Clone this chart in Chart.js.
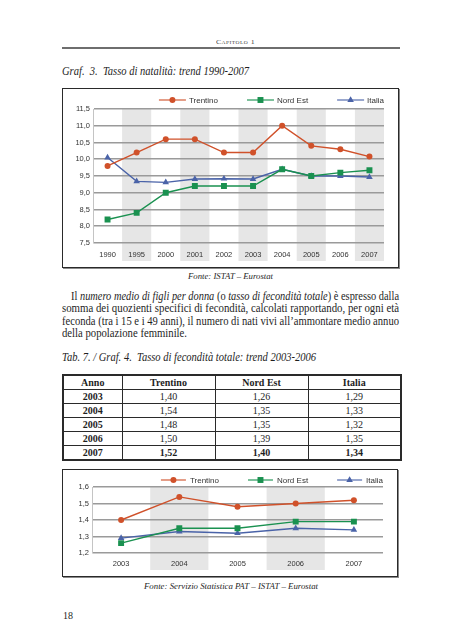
<!DOCTYPE html>
<html>
<head>
<meta charset="utf-8">
<script src="https://cdn.jsdelivr.net/npm/chart.js@4.4.1/dist/chart.umd.min.js"></script>
<style>
  body { margin: 0; width: 453px; height: 640px; background: #fff; position: relative; overflow: hidden; }
  .txt { position: absolute; white-space: nowrap; display: inline-block; color: #1e1e1e;
         font-family: "Liberation Serif", "Times New Roman", serif; transform-origin: 0 0; }
  .it { font-style: italic; }
  .rule { position: absolute; left: 62px; top: 47px; width: 338px; height: 2px; background: #6e6e6e; }
  .box { position: absolute; border: 1px solid #2a2a2a; box-shadow: 1px 1px 0 #8a8a8a; background: #fff; }
  .box canvas { display: block; }
  table { position: absolute; left: 62px; top: 374px; width: 338px; height: 86px; border-collapse: collapse;
          table-layout: fixed; font-family: "Liberation Serif", "Times New Roman", serif; font-size: 10px; color: #1e1e1e; }
  td, th { border: 1px solid #2a2a2a; text-align: center; padding: 0; height: 13px; }
  table { border: 2px solid #2a2a2a; }
  td.b, th { font-weight: bold; }
</style>
</head>
<body>
<div class="rule"></div>
<div class="box" style="left:62px; top:88px; width:335px; height:178px;">
  <canvas id="chart1" width="335" height="178"></canvas>
</div>
<div class="box" style="left:62px; top:469px; width:334px; height:106px;">
  <canvas id="chart2" width="334" height="106"></canvas>
</div>
<script>
// Graf. 3 - tasso di natalità
const years1 = ["1990", "1995", "2000", "2001", "2002", "2003", "2004", "2005", "2006", "2007"];
const trentino1 = [9.8, 10.2, 10.6, 10.6, 10.2, 10.2, 11.0, 10.4, 10.3, 10.08];
const nordEst1 = [8.2, 8.4, 9.0, 9.2, 9.2, 9.2, 9.7, 9.5, 9.6, 9.67];
const italia1 = [10.05, 9.34, 9.31, 9.41, 9.42, 9.41, 9.7, 9.5, 9.5, 9.47];

// Graf. 4 - tasso di fecondità totale
const years2 = ["2003", "2004", "2005", "2006", "2007"];
const trentino2 = [1.40, 1.54, 1.48, 1.50, 1.52];
const nordEst2 = [1.26, 1.35, 1.35, 1.39, 1.39];
const italia2 = [1.29, 1.33, 1.32, 1.35, 1.34];

// Tab. 7
const tableHead = ["Anno", "Trentino", "Nord Est", "Italia"];
const tableYears = ["2003", "2004", "2005", "2006", "2007"];
const tableTrentino = ["1,40", "1,54", "1,48", "1,50", "1,52"];
const tableNordEst = ["1,26", "1,35", "1,35", "1,39", "1,40"];
const tableItalia = ["1,29", "1,33", "1,32", "1,35", "1,34"];

const seriesNames = ["Trentino", "Nord Est", "Italia"];
const seriesColors = ["#d0512a", "#1a9150", "#4a63a8"];
const seriesMarkers = ["circle", "rect", "triangle"];
const seriesRadius = [3, 4.2, 3.8];

const sansFont = '"Liberation Sans", Arial, sans-serif';

function addText(html, opts) {
    const el = document.createElement("div");
    el.className = "txt" + (opts.italic ? " it" : "");
    el.innerHTML = html;
    el.style.fontSize = opts.size + "px";
    el.style.lineHeight = opts.size + "px";
    el.style.top = (opts.cy - opts.size * 0.55) + "px";
    if (opts.color) el.style.color = opts.color;
    if (opts.smallCaps) { el.style.fontVariant = "small-caps"; el.style.letterSpacing = "0.4px"; }
    document.body.appendChild(el);
    const nat = el.getBoundingClientRect().width;
    const w = opts.width || nat;
    if (opts.width) el.style.transform = "scaleX(" + (w / nat) + ")";
    const left = opts.cx !== undefined ? opts.cx - w / 2 : opts.left;
    el.style.left = left + "px";
}

addText("Capitolo 1", { cx: 235.5, cy: 43, size: 7, width: 39, smallCaps: true, color: "#444" });
addText("Graf.&nbsp; 3.&nbsp; Tasso di natalità: trend 1990-2007", { left: 62, cy: 71, size: 13, width: 187, italic: true });
addText("Fonte: ISTAT – Eurostat", { cx: 230.5, cy: 277, size: 9, width: 85, italic: true });

const para = [
    ['Il <i>numero medio di figli per donna</i> (o <i>tasso di fecondità totale</i>) è espresso dalla', 71, 297, 328],
    ["somma dei quozienti specifici di fecondità, calcolati rapportando, per ogni età", 62, 309.3, 337],
    ["feconda (tra i 15 e i 49 anni), il numero di nati vivi all’ammontare medio annuo", 62, 321.5, 337],
    ["della popolazione femminile.", 62, 333.6, 125]
];
para.forEach(p => addText(p[0], { left: p[1], cy: p[2], size: 12.5, width: p[3] }));

addText("Tab. 7. / Graf. 4.&nbsp; Tasso di fecondità totale: trend 2003-2006", { left: 62, cy: 357, size: 13, width: 254, italic: true });
addText("Fonte: Servizio Statistica PAT – ISTAT – Eurostat", { cx: 231, cy: 587, size: 9, width: 174, italic: true });
addText("18", { left: 63, cy: 616, size: 10 });

// table
const table = document.createElement("table");
table.innerHTML =
    '<colgroup><col style="width:59px"><col style="width:93px"><col style="width:93px"><col style="width:93px"></colgroup>' +
    "<tr>" + tableHead.map(h => "<th>" + h + "</th>").join("") + "</tr>" +
    tableYears.map((y, i) => {
        const last = i === tableYears.length - 1 ? ' class="b"' : "";
        return '<tr><td class="b">' + y + "</td><td" + last + ">" + tableTrentino[i] + "</td><td" + last + ">" +
            tableNordEst[i] + "</td><td" + last + ">" + tableItalia[i] + "</td></tr>";
    }).join("");
document.body.appendChild(table);

function drawMarker(ctx, style, x, y, r) {
    ctx.beginPath();
    if (style === "circle") {
        ctx.arc(x, y, r, 0, Math.PI * 2);
    } else if (style === "rect") {
        const s = r * Math.SQRT1_2;
        ctx.rect(x - s, y - s, s * 2, s * 2);
    } else {
        ctx.moveTo(x, y - r);
        ctx.lineTo(x + r * 0.87, y + r * 0.5);
        ctx.lineTo(x - r * 0.87, y + r * 0.5);
        ctx.closePath();
    }
    ctx.fill();
}

const bandsPlugin = {
    id: "bands",
    beforeDraw(chart, args, opts) {
        const x = chart.scales.x;
        const area = chart.chartArea;
        const ctx = chart.ctx;
        const step = (x.right - x.left) / chart.data.labels.length;
        ctx.save();
        ctx.fillStyle = "#e6e6e6";
        chart.data.labels.forEach((l, i) => {
            if (i % 2 === 1) {
                const c = x.getPixelForValue(i);
                ctx.fillRect(c - step / 2, area.top, step, x.bottom - opts.bottomGap - area.top);
            }
        });
        ctx.restore();
    }
};

const lineLegend = {
    id: "lineLegend",
    afterDraw(chart, args, opts) {
        const ctx = chart.ctx;
        ctx.save();
        ctx.font = "8px " + sansFont;
        ctx.textBaseline = "middle";
        let right = chart.chartArea.right;
        const ds = chart.data.datasets;
        for (let i = ds.length - 1; i >= 0; i--) {
            const d = ds[i];
            const tx = right - ctx.measureText(d.label).width;
            ctx.fillStyle = "#333";
            ctx.fillText(d.label, tx, opts.y + 0.5);
            const x1 = tx - opts.textGap, x0 = x1 - opts.lineLen;
            ctx.strokeStyle = d.borderColor;
            ctx.globalAlpha = 0.7;
            ctx.lineWidth = 1.6;
            ctx.beginPath(); ctx.moveTo(x0, opts.y); ctx.lineTo(x1, opts.y); ctx.stroke();
            ctx.globalAlpha = 1;
            ctx.fillStyle = d.pointBackgroundColor;
            drawMarker(ctx, d.pointStyle, (x0 + x1) / 2, opts.y, d.pointRadius);
            right = x0 - opts.gap;
        }
        ctx.restore();
    }
};

function makeChart(id, labels, series, yMin, yMax, yStep, layout) {
    const datasets = series.map((vals, i) => ({
        label: seriesNames[i],
        data: vals,
        borderColor: seriesColors[i],
        backgroundColor: seriesColors[i],
        pointBackgroundColor: seriesColors[i],
        pointBorderColor: seriesColors[i],
        pointBorderWidth: 0,
        pointStyle: seriesMarkers[i],
        pointRadius: seriesRadius[i],
        borderWidth: 1.4,
        tension: 0
    }));
    return new Chart(document.getElementById(id), {
        type: "line",
        data: { labels, datasets },
        plugins: [bandsPlugin, lineLegend],
        options: {
            responsive: false,
            animation: false,
            devicePixelRatio: 1,
            layout: { padding: { top: layout.top, right: layout.right, left: 0, bottom: 0 } },
            plugins: {
                legend: { display: false },
                tooltip: { enabled: false },
                bands: { bottomGap: layout.bandGap },
                lineLegend: { y: layout.legendY, lineLen: layout.lineLen, gap: layout.gap, textGap: layout.textGap }
            },
            scales: {
                x: {
                    offset: true,
                    grid: { display: false, drawTicks: false },
                    border: { display: false },
                    ticks: { padding: layout.xPad, color: "#333", font: { family: sansFont, size: 7.5 }, maxRotation: 0 },
                    afterFit: s => { s.height = layout.xHeight; }
                },
                y: {
                    min: yMin,
                    max: yMax,
                    grid: { color: "#9a9a9a", lineWidth: 1.6, drawTicks: false },
                    border: { display: true, color: "#c4c4c4", width: 1 },
                    ticks: {
                        stepSize: yStep,
                        padding: 3,
                        color: "#333",
                        font: { family: sansFont, size: 7.5 },
                        callback: v => v.toFixed(1).replace(".", ",")
                    },
                    afterFit: s => { s.width = layout.yWidth; }
                }
            }
        }
    });
}

makeChart("chart1", years1, [trentino1, nordEst1, italia1], 7.5, 11.5, 0.5,
    { top: 20, right: 14, yWidth: 30, xHeight: 24, xPad: 7, bandGap: 6, legendY: 11, lineLen: 27, gap: 29, textGap: 3 });
makeChart("chart2", years2, [trentino2, nordEst2, italia2], 1.2, 1.6, 0.1,
    { top: 17, right: 14, yWidth: 29, xHeight: 23, xPad: 6, bandGap: 6, legendY: 10, lineLen: 25, gap: 29, textGap: 4 });
</script>
</body>
</html>
